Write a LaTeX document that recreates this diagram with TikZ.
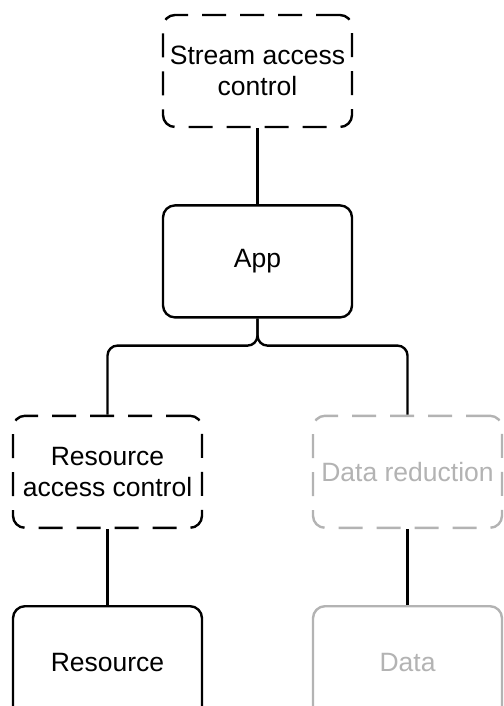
\documentclass[tikz,border=0pt]{standalone}
\usepackage{fontspec}
\setmainfont{Liberation Sans}
\usetikzlibrary{positioning}
\definecolor{faded}{HTML}{B3B3B3}

\begin{document}
\begin{tikzpicture}[
  font=\fontsize{26.5}{31}\selectfont,
  node distance=76pt,
  box/.style={draw, line width=2.4pt, rounded corners=12pt, align=center, inner sep=2pt,
    minimum width=189pt, minimum height=112pt, fill=white},
  dashbox/.style={box, dash pattern=on 24pt off 14pt},
  faint/.style={draw=faded, text=faded},
  link/.style={line width=2.4pt},
]
\useasboundingbox (0,0) rectangle (503pt,-706pt);
% Top row.
\node[dashbox] (stream) at (257.5pt,-71pt) {Stream access\\control};
\node[box, below=of stream] (app) {App};
% Left branch.
\node[dashbox, below=96pt of app, xshift=-150pt] (rac) {Resource\\access control};
\node[box, below=of rac] (res) {Resource};
% Right branch.
\node[dashbox, faint, below=96pt of app, xshift=150pt] (red) {Data reduction};
\node[box, faint, below=of red] (data) {Data};
\coordinate (fork) at ([yshift=-27pt]app.south);
\draw[link] (stream) -- (app);
\draw[link, rounded corners=10pt] (app.south) -- (fork) -| (rac.north);
\draw[link, rounded corners=10pt] (app.south) -- (fork) -| (red.north);
\draw[link] (rac) -- (res);
\draw[link] (red) -- (data);
\end{tikzpicture}
\end{document}
